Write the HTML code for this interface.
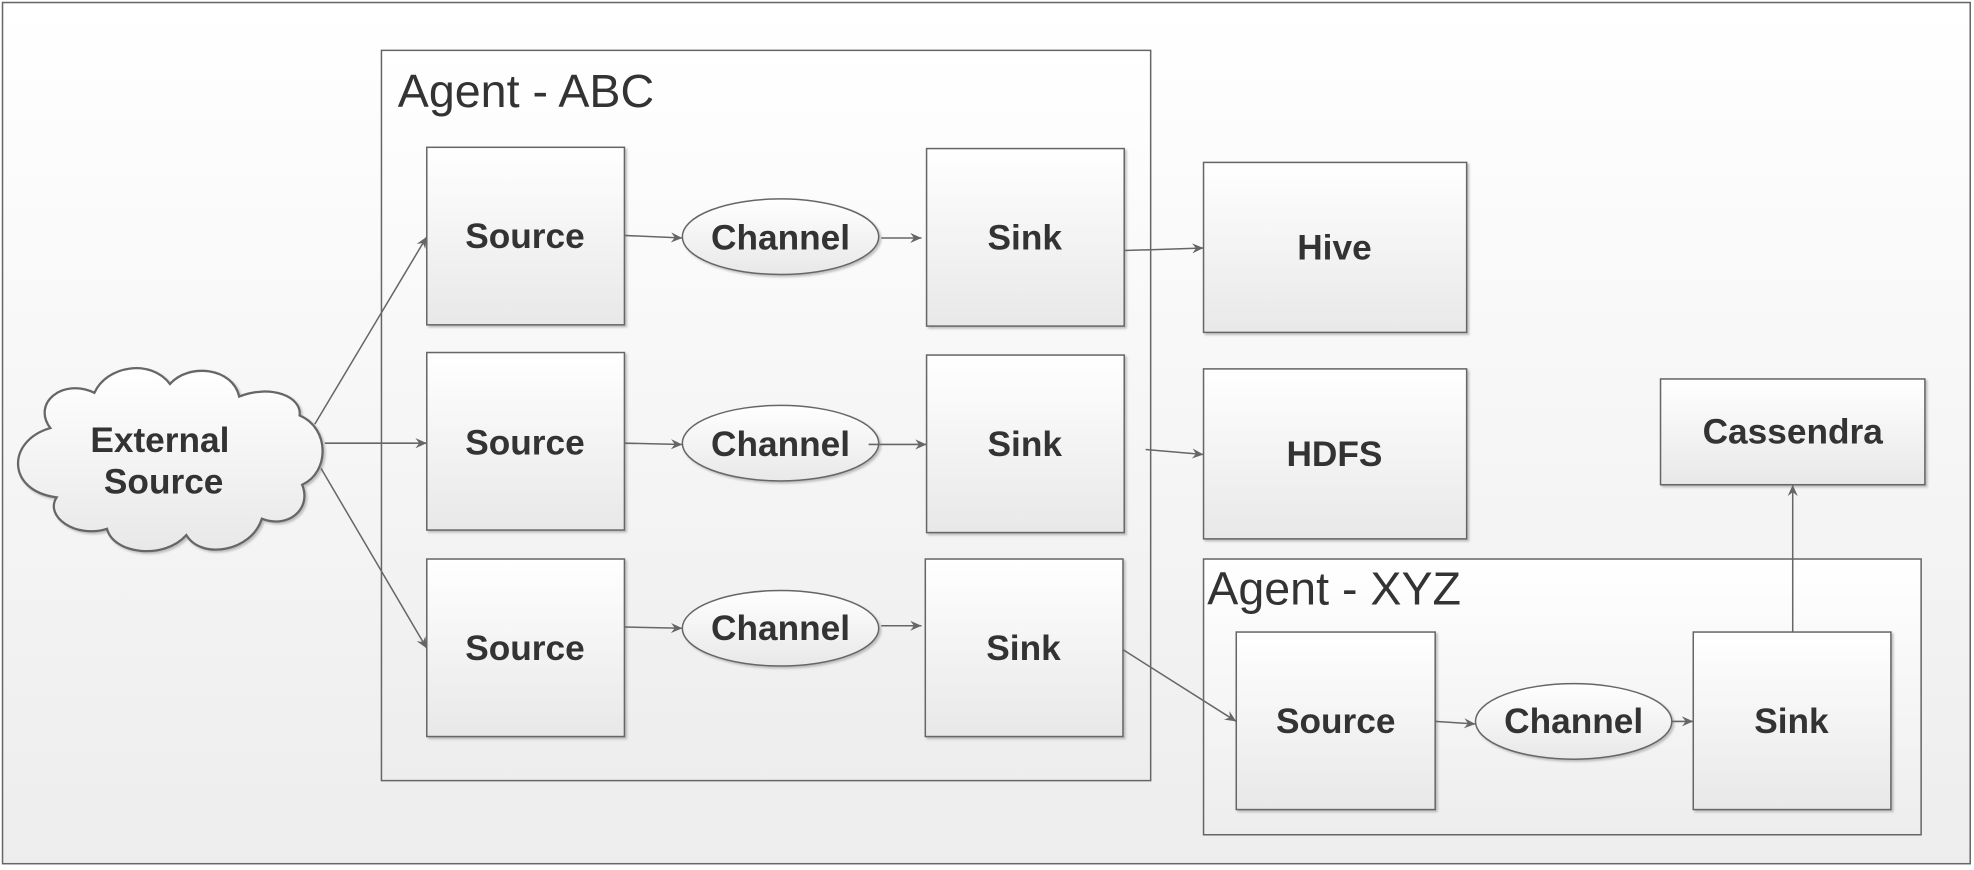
<!DOCTYPE html>
<html><head><style>
html,body{margin:0;padding:0;background:#fff;}
svg{display:block;}
text{font-family:"Liberation Sans",Arial,sans-serif;fill:#333;}
.b{font-weight:bold;font-size:28px;text-anchor:middle;dominant-baseline:central;}
.t{font-size:37px;}
</style></head><body>
<svg width="1974" height="870" viewBox="0 0 1568 691" preserveAspectRatio="none" xmlns="http://www.w3.org/2000/svg">
<defs>
<linearGradient id="bg" x1="0" y1="0" x2="0" y2="1"><stop offset="0" stop-color="#ffffff"/><stop offset="1" stop-color="#ededed"/></linearGradient>
<linearGradient id="g" x1="0" y1="0" x2="0" y2="1"><stop offset="0" stop-color="#ffffff"/><stop offset="1" stop-color="#e8e8e8"/></linearGradient>
<marker id="a" markerWidth="10" markerHeight="10" refX="9" refY="5" orient="auto" markerUnits="userSpaceOnUse"><path d="M0,1 L9,5 L0,9 L3,5 z" fill="#666"/></marker>
<filter id="s" x="-5%" y="-5%" width="115%" height="115%"><feDropShadow dx="1.5" dy="1.5" stdDeviation="0.8" flood-color="#999" flood-opacity="0.6"/></filter>
</defs>
<rect x="2" y="2" width="1563" height="684" fill="url(#bg)" stroke="#666" stroke-width="1.2"/>
<rect x="303" y="40" width="611" height="580" fill="url(#bg)" stroke="#666" stroke-width="1.2"/>
<text x="316" y="85" class="t">Agent - ABC</text>
<rect x="956" y="444" width="570" height="219" fill="url(#bg)" stroke="#666" stroke-width="1.2"/>
<text x="959" y="480" class="t">Agent - XYZ</text>
<g stroke="#666" stroke-width="1.2" fill="url(#g)" filter="url(#s)">
<rect x="339" y="117" width="157" height="141"/>
<rect x="339" y="280" width="157" height="141"/>
<rect x="339" y="444" width="157" height="141"/>
<rect x="736" y="118" width="157" height="141"/>
<rect x="736" y="282" width="157" height="141"/>
<rect x="735" y="444" width="157" height="141"/>
<rect x="956" y="129" width="209" height="135"/>
<rect x="956" y="293" width="209" height="135"/>
<rect x="1319" y="301" width="210" height="84"/>
<rect x="982" y="502" width="158" height="141"/>
<rect x="1345" y="502" width="157" height="141"/>
<ellipse cx="620" cy="188" rx="78" ry="30"/>
<ellipse cx="620" cy="352" rx="78" ry="30"/>
<ellipse cx="620" cy="499" rx="78" ry="30"/>
<ellipse cx="1250" cy="573" rx="78" ry="30"/>
<path d="M40,340 C25,320 50,300 75,312 C85,290 120,285 135,305 C150,288 185,292 190,315 C215,305 240,315 238,330 C262,340 262,375 240,385 C248,405 228,420 208,412 C200,438 160,445 148,425 C130,445 90,440 85,420 C60,428 35,410 45,395 C5,390 5,350 40,340 z" stroke-width="1.8"/>
</g>
<g stroke="#666" stroke-width="1.2" fill="none" marker-end="url(#a)">
<line x1="250" y1="337" x2="339" y2="188"/>
<line x1="258" y1="352" x2="339" y2="352"/>
<line x1="255" y1="372" x2="339" y2="515"/>
<line x1="496" y1="187" x2="542" y2="189"/>
<line x1="496" y1="352" x2="542" y2="353"/>
<line x1="496" y1="498" x2="542" y2="499"/>
<line x1="700" y1="189" x2="732" y2="189"/>
<line x1="690" y1="353" x2="736" y2="353"/>
<line x1="700" y1="497" x2="732" y2="497"/>
<line x1="893" y1="199" x2="956" y2="197"/>
<line x1="910" y1="357" x2="956" y2="361"/>
<line x1="892" y1="516" x2="982" y2="573"/>
<line x1="1140" y1="573" x2="1172" y2="575"/>
<line x1="1328" y1="573" x2="1345" y2="573"/>
<line x1="1424" y1="502" x2="1424" y2="385"/>
</g>
<text class="b" x="417" y="188">Source</text>
<text class="b" x="417" y="352">Source</text>
<text class="b" x="417" y="515">Source</text>
<text class="b" x="620" y="189">Channel</text>
<text class="b" x="620" y="353">Channel</text>
<text class="b" x="620" y="499">Channel</text>
<text class="b" x="814" y="189">Sink</text>
<text class="b" x="814" y="353">Sink</text>
<text class="b" x="813" y="515">Sink</text>
<text class="b" x="1060" y="197">Hive</text>
<text class="b" x="1060" y="361">HDFS</text>
<text class="b" x="1424" y="343">Cassendra</text>
<text class="b" x="1061" y="573">Source</text>
<text class="b" x="1250" y="573">Channel</text>
<text class="b" x="1423" y="573">Sink</text>
<text class="b" x="127" y="350">External</text>
<text class="b" x="130" y="383">Source</text>
</svg>
</body></html>
